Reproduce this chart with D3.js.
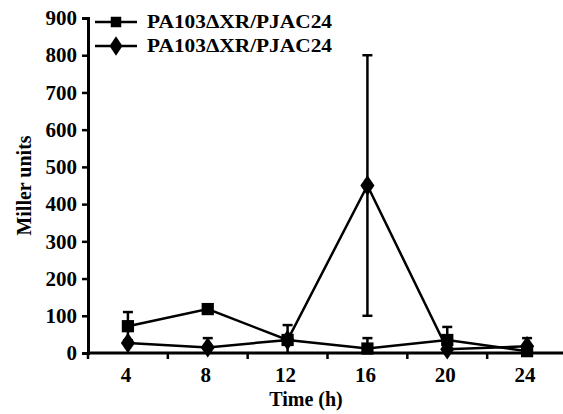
<!DOCTYPE html>
<html>
<head>
<meta charset="utf-8">
<script src="https://cdn.jsdelivr.net/npm/d3@7"></script>
<style>
  body { margin: 0; background: #fff; }
  text { font-family: "Liberation Serif", "Times New Roman", serif; font-weight: bold; }
</style>
</head>
<body>
<svg width="563" height="414"></svg>
<script>
// time points (h)
var hours = ["4", "8", "12", "16", "20", "24"];
// square series
var squareVals = [72, 118, 35, 12, 35, 5];
var squareErr = [38, 5, 40, 28, 35, 0];
// diamond series
var diamondVals = [27, 15, 35, 450, 10, 18];
var diamondErr = [0, 25, 0, 350, 0, 22];
var legendNames = ["PA103\u0394XR/PJAC24", "PA103\u0394XR/PJAC24"];
var yTicks = [0, 100, 200, 300, 400, 500, 600, 700, 800, 900];

var svg = d3.select("svg");
var plotL = 88, plotR = 567, plotT = 18, plotB = 353;

var x = d3.scalePoint().domain(hours).range([plotL, plotR]).padding(0.5);
var y = d3.scaleLinear().domain([0, 900]).range([plotB, plotT]).clamp(true);

// y axis
var yAxis = svg.append("g")
    .attr("transform", "translate(" + plotL + ",0)")
    .call(d3.axisLeft(y).tickValues(yTicks).tickSize(6).tickPadding(5));
yAxis.select(".domain").attr("stroke-width", 3);
yAxis.selectAll(".tick line").attr("stroke-width", 2.5);
yAxis.selectAll("text").style("font-size", "21px").attr("fill", "#000");

// x axis: ticks between categories
var step = x.step();
var bounds = hours.map(function(d) { return x(d) - step / 2; });
svg.selectAll(".xtick").data(bounds).enter()
    .append("line")
    .attr("x1", function(d) { return d; })
    .attr("x2", function(d) { return d; })
    .attr("y1", plotB)
    .attr("y2", plotB + 6)
    .attr("stroke", "#000")
    .attr("stroke-width", 2.5);
svg.append("line")
    .attr("x1", plotL - 1).attr("x2", 563)
    .attr("y1", plotB).attr("y2", plotB)
    .attr("stroke", "#000").attr("stroke-width", 3);
svg.selectAll(".xlab").data(hours).enter()
    .append("text")
    .attr("x", function(d) { return x(d) - 2; })
    .attr("y", plotB + 29)
    .attr("text-anchor", "middle")
    .style("font-size", "21px")
    .text(function(d) { return d; });

svg.append("text")
    .attr("x", 306).attr("y", 406)
    .attr("text-anchor", "middle")
    .style("font-size", "20px")
    .text("Time (h)");
svg.append("text")
    .attr("transform", "translate(31," + ((plotT + plotB) / 2) + ") rotate(-90)")
    .attr("text-anchor", "middle")
    .style("font-size", "20px")
    .text("Miller units");

function drawSeries(vals, errs, shape) {
    var g = svg.append("g");
    var line = d3.line()
        .x(function(d, i) { return x(hours[i]); })
        .y(function(d) { return y(d); });
    g.append("path").datum(vals)
        .attr("d", line)
        .attr("fill", "none")
        .attr("stroke", "#000")
        .attr("stroke-width", 2.5);
    var pts = vals.map(function(v, i) { return { h: hours[i], v: v, e: errs[i] }; });
    g.selectAll(".err").data(pts).enter()
        .append("line")
        .attr("x1", function(d) { return x(d.h); })
        .attr("x2", function(d) { return x(d.h); })
        .attr("y1", function(d) { return y(d.v - d.e); })
        .attr("y2", function(d) { return y(d.v + d.e); })
        .attr("stroke", "#000").attr("stroke-width", 2.5);
    [1, -1].forEach(function(s) {
        g.selectAll(".cap" + s).data(pts.filter(function(d) { return d.e > 0 && d.v + s * d.e > 0; }))
            .enter().append("line")
            .attr("x1", function(d) { return x(d.h) - 5; })
            .attr("x2", function(d) { return x(d.h) + 5; })
            .attr("y1", function(d) { return y(d.v + s * d.e); })
            .attr("y2", function(d) { return y(d.v + s * d.e); })
            .attr("stroke", "#000").attr("stroke-width", 2.5);
    });
    g.selectAll(".pt").data(pts).enter()
        .append("path")
        .attr("d", d3.symbol().type(shape).size(shape === d3.symbolSquare ? 150 : 120))
        .attr("transform", function(d) {
            return "translate(" + x(d.h) + "," + y(d.v) + ")" + (shape === d3.symbolSquare ? "" : " scale(1.2,1)");
        })
        .attr("fill", "#000");
}
drawSeries(squareVals, squareErr, d3.symbolSquare);
drawSeries(diamondVals, diamondErr, d3.symbolDiamond);

// legend
var shapes = [d3.symbolSquare, d3.symbolDiamond];
legendNames.forEach(function(name, i) {
    var ly = 22 + i * 24;
    svg.append("line")
        .attr("x1", 95).attr("x2", 137)
        .attr("y1", ly).attr("y2", ly)
        .attr("stroke", "#000").attr("stroke-width", 2.5);
    svg.append("path")
        .attr("d", d3.symbol().type(shapes[i]).size(110))
        .attr("transform", "translate(116," + ly + ")" + (i === 1 ? " scale(1.15,1)" : ""))
        .attr("fill", "#000");
    svg.append("text")
        .attr("x", 147).attr("y", ly + 6)
        .style("font-size", "19px")
        .attr("textLength", 185)
        .attr("lengthAdjust", "spacingAndGlyphs")
        .text(name);
});
</script>
</body>
</html>
